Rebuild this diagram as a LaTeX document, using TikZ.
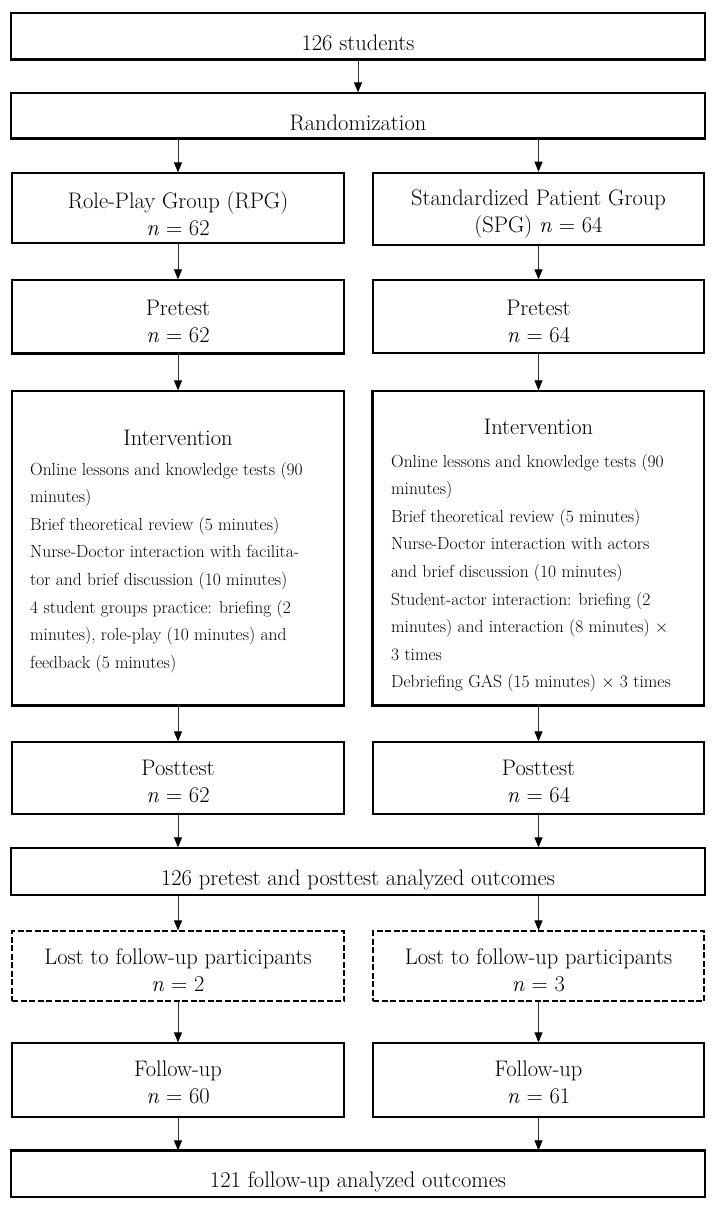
\documentclass[tikz,border=0pt]{standalone}
\usetikzlibrary{arrows.meta}
\begin{document}
\begin{tikzpicture}[x=1pt,y=-1pt,
  box/.style={draw=black, line width=1.3pt, rectangle, inner sep=0pt, fill=none},
  heavybox/.style={box, line width=2.6pt},
  lostbox/.style={box, line width=1.2pt, dash pattern=on 6pt off 2.5pt},
  heavyedge/.style={draw=black, line width=2.6pt},
  head/.style={inner sep=0pt, align=center, font=\fontsize{22.5}{27}\selectfont},
  items/.style={inner sep=0pt, align=left, anchor=north west, font=\fontsize{17.5}{27.6}\selectfont},
  arr/.style={draw=black!80, line width=0.9pt, -{Triangle[width=8pt,length=10pt,color=black]}}
]
\useasboundingbox (0,0) rectangle (718,1208);
\fill[white] (0,0) rectangle (718,1208);

% boxes
\node[box, minimum width=694pt, minimum height=46pt] (top) at (358,36) {};
\node[box, minimum width=694pt, minimum height=45pt] (rand) at (358,115.5) {};
\node[box, minimum width=332pt, minimum height=70pt] (rpg) at (178,208) {};
\node[heavybox, minimum width=331pt, minimum height=72pt] (spg) at (538.5,209) {};
\node[box, minimum width=332pt, minimum height=73pt] (preL) at (178,316.5) {};
\node[box, minimum width=331pt, minimum height=73pt] (preR) at (538.5,316.5) {};
\node[box, minimum width=332pt, minimum height=314pt] (intL) at (178,548) {};
\node[box, minimum width=331pt, minimum height=314pt] (intR) at (538.5,548) {};
\node[box, minimum width=332pt, minimum height=72pt] (postL) at (178,778) {};
\node[box, minimum width=331pt, minimum height=72pt] (postR) at (538.5,778) {};
\node[box, minimum width=694pt, minimum height=47pt] (ana) at (358,871.5) {};
\node[lostbox, minimum width=332pt, minimum height=70pt] (lostL) at (178,966) {};
\node[lostbox, minimum width=331pt, minimum height=70pt] (lostR) at (538.5,966) {};
\node[box, minimum width=332pt, minimum height=74pt] (folL) at (178,1080) {};
\node[box, minimum width=331pt, minimum height=74pt] (folR) at (538.5,1080) {};
\node[box, minimum width=694pt, minimum height=46pt] (fin) at (358,1174) {};

% heavier edges
\draw[heavyedge] (top.south west) -- (top.south east);
\draw[heavyedge] (rand.south west) -- (rand.south east);
\draw[heavyedge] (preL.south west) -- (preL.south east);
\draw[heavyedge] (intL.south west) -- (intL.south east);
\draw[heavyedge] (intR.north west) -- (intR.south west) -- (intR.south east);
\draw[heavyedge] (fin.north west) -- (fin.north east);

% texts
\node[head] (ttop) at (358,43) {126 students};
\node[head] (trand) at (358,123) {Randomization};
\node[head] (trpg) at (178,213.5) {Role-Play Group (RPG)\\\textit{n} = 62};
\node[head] (tspg) at (538.5,213.5) {Standardized Patient Group\\(SPG) \textit{n} = 64};
\node[head] (tpreL) at (178,321) {Pretest\\\textit{n} = 62};
\node[head] (tpreR) at (538.5,321) {Pretest\\\textit{n} = 64};
\node[head] (tintL) at (178,438) {Intervention};
\node[head] (tintR) at (538.5,427) {Intervention};
\node[items] (iL) at (30,461.8) {Online lessons and knowledge tests (90\\
minutes)\\
Brief theoretical review (5 minutes)\\
Nurse-Doctor interaction with facilita-\\
tor and brief discussion (10 minutes)\\
4 student groups practice: briefing (2\\
minutes), role-play (10 minutes) and\\
feedback (5 minutes)};
\node[items] (iR) at (391,453.8) {Online lessons and knowledge tests (90\\
minutes)\\
Brief theoretical review (5 minutes)\\
Nurse-Doctor interaction with actors\\
and brief discussion (10 minutes)\\
Student-actor interaction: briefing (2\\
minutes) and interaction (8 minutes) $\times$\\
3 times\\
Debriefing GAS (15 minutes) $\times$ 3 times};
\node[head] (tpostL) at (178,781.5) {Posttest\\\textit{n} = 62};
\node[head] (tpostR) at (538.5,781.5) {Posttest\\\textit{n} = 64};
\node[head] (tana) at (358,880) {126 pretest and posttest analyzed outcomes};
\node[head] (tlostL) at (178,970) {Lost to follow-up participants\\\textit{n} = 2};
\node[head] (tlostR) at (538.5,970) {Lost to follow-up participants\\\textit{n} = 3};
\node[head] (tfolL) at (178,1082.5) {Follow-up\\\textit{n} = 60};
\node[head] (tfolR) at (538.5,1082.5) {Follow-up\\\textit{n} = 61};
\node[head] (tfin) at (358,1182) {121 follow-up analyzed outcomes};

% connectors
\draw[arr] (top.south) -- (rand.north);
\draw[arr] (rand.south -| rpg.north) -- (rpg.north);
\draw[arr] (rand.south -| spg.north) -- (spg.north);
\draw[arr] (rpg.south) -- (preL.north);
\draw[arr] (spg.south) -- (preR.north);
\draw[arr] (preL.south) -- (intL.north);
\draw[arr] (preR.south) -- (intR.north);
\draw[arr] (intL.south) -- (postL.north);
\draw[arr] (intR.south) -- (postR.north);
\draw[arr] (postL.south) -- (ana.north -| postL.south);
\draw[arr] (postR.south) -- (ana.north -| postR.south);
\draw[arr] (ana.south -| lostL.north) -- (lostL.north);
\draw[arr] (ana.south -| lostR.north) -- (lostR.north);
\draw[arr] (lostL.south) -- (folL.north);
\draw[arr] (lostR.south) -- (folR.north);
\draw[arr] (folL.south) -- (fin.north -| folL.south);
\draw[arr] (folR.south) -- (fin.north -| folR.south);
\end{tikzpicture}
\end{document}
